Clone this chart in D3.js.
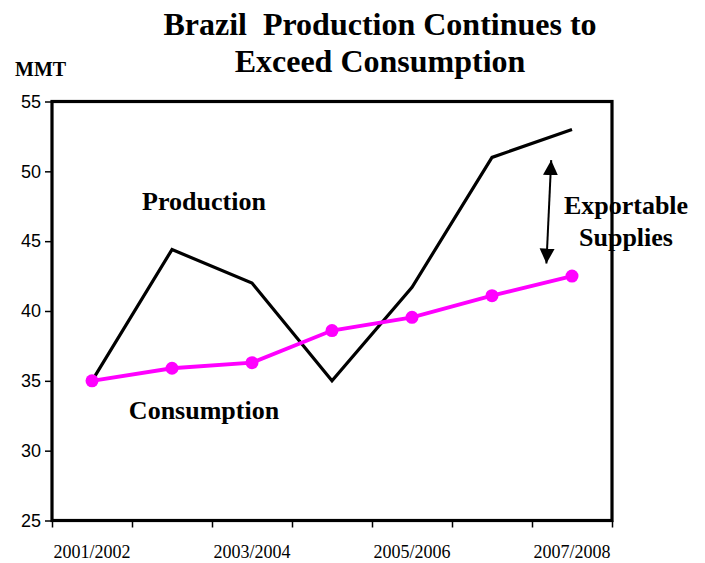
<!DOCTYPE html>
<html>
<head>
<meta charset="utf-8">
<script src="https://cdn.jsdelivr.net/npm/d3@7"></script>
<style>
  body { margin: 0; background: #fff; }
  svg { display: block; }
  .serif { font-family: "Liberation Serif", "Times New Roman", serif; font-weight: bold; fill: #000; }
</style>
</head>
<body>
<div id="vis"></div>
<script>
const years = ['2001/2002', '2002/2003', '2003/2004', '2004/2005', '2005/2006', '2006/2007', '2007/2008']
const production = [35, 44.4, 42, 35, 41.7, 51, 53]
const consumption = [35, 35.9, 36.3, 38.6, 39.55, 41.1, 42.5]
const yTicks = [25, 30, 35, 40, 45, 50, 55]
const shownYears = ['2001/2002', '2003/2004', '2005/2006', '2007/2008']

const W = 705, H = 563
const margin = {top: 101.5, right: 93, bottom: 42.5, left: 52}
const width = W - margin.left - margin.right
const height = H - margin.top - margin.bottom

const svg = d3.select('#vis')
    .append('svg')
    .attr('width', W)
    .attr('height', H)

const g = svg.append('g')
    .attr('transform', `translate(${margin.left},${margin.top})`)

// positions along x: 0..7 band edges, points in the middle
const xLin = d3.scaleLinear().domain([0, years.length]).range([0, width])
const x = (d, i) => xLin(i + 0.5)
const y = d3.scaleLinear().domain([25, 55]).range([height, 0])

// y axis
const yAxis = g.append('g')
    .call(d3.axisLeft(y).tickValues(yTicks).tickSize(7).tickPadding(4))
yAxis.select('.domain').remove()
yAxis.selectAll('line').attr('stroke', '#000').attr('stroke-width', 1.5)
yAxis.selectAll('text')
    .style('font-family', '"Liberation Sans", Arial, sans-serif')
    .style('font-size', '18px')
    .attr('fill', '#000')

// x axis ticks at band edges
const xAxis = g.append('g')
    .attr('transform', `translate(0,${height})`)
    .call(d3.axisBottom(xLin).tickValues(d3.range(years.length + 1)).tickSize(7).tickFormat(''))
xAxis.select('.domain').remove()
xAxis.selectAll('line').attr('stroke', '#000').attr('stroke-width', 1.5)

g.selectAll('.xlabel')
    .data(years)
    .join('text')
    .attr('class', 'xlabel')
    .filter(d => shownYears.includes(d))
    .attr('x', d => x(d, years.indexOf(d)))
    .attr('y', height + 37)
    .attr('text-anchor', 'middle')
    .style('font-family', '"Liberation Serif", "Times New Roman", serif')
    .style('font-size', '18px')
    .text(d => d)

// plot frame
g.append('rect')
    .attr('width', width)
    .attr('height', height)
    .attr('fill', 'none')
    .attr('stroke', '#000')
    .attr('stroke-width', 3.2)

const line = d3.line().x(x).y(d => y(d))

g.append('path')
    .datum(production)
    .attr('d', line)
    .attr('fill', 'none')
    .attr('stroke', '#000')
    .attr('stroke-width', 3.2)
    .attr('stroke-linejoin', 'miter')

g.append('path')
    .datum(consumption)
    .attr('d', line)
    .attr('fill', 'none')
    .attr('stroke', '#ff00ff')
    .attr('stroke-width', 3.8)

g.selectAll('.pt')
    .data(consumption)
    .join('circle')
    .attr('class', 'pt')
    .attr('cx', x)
    .attr('cy', d => y(d))
    .attr('r', 6.5)
    .attr('fill', '#ff00ff')

// double arrow for exportable supplies
const defs = svg.append('defs')
defs.append('marker')
    .attr('id', 'head')
    .attr('viewBox', '0 0 10 10')
    .attr('refX', 10).attr('refY', 5)
    .attr('markerWidth', 15).attr('markerHeight', 16)
    .attr('markerUnits', 'userSpaceOnUse')
    .attr('orient', 'auto-start-reverse')
    .append('path')
    .attr('d', 'M0,0 L10,5 L0,10 Z')
    .attr('fill', '#000')

const arrowTop = {i: 6.24, v: 50.8}
const arrowBot = {i: 6.18, v: 43.4}
g.append('line')
    .attr('x1', xLin(arrowTop.i)).attr('y1', y(arrowTop.v))
    .attr('x2', xLin(arrowBot.i)).attr('y2', y(arrowBot.v))
    .attr('stroke', '#000')
    .attr('stroke-width', 2)
    .attr('marker-start', 'url(#head)')
    .attr('marker-end', 'url(#head)')

// labels
svg.append('text').attr('class', 'serif')
    .attr('x', 380).attr('y', 35)
    .attr('text-anchor', 'middle')
    .style('font-size', '32px')
    .style('white-space', 'pre')
    .text('Brazil  Production Continues to')
svg.append('text').attr('class', 'serif')
    .attr('x', 380).attr('y', 72)
    .attr('text-anchor', 'middle')
    .style('font-size', '32px')
    .text('Exceed Consumption')

svg.append('text').attr('class', 'serif')
    .attr('x', 15).attr('y', 76)
    .style('font-size', '20px')
    .text('MMT')

svg.append('text').attr('class', 'serif')
    .attr('x', 204).attr('y', 210)
    .attr('text-anchor', 'middle')
    .style('font-size', '26px')
    .text('Production')

svg.append('text').attr('class', 'serif')
    .attr('x', 204).attr('y', 419)
    .attr('text-anchor', 'middle')
    .style('font-size', '26px')
    .text('Consumption')

svg.append('text').attr('class', 'serif')
    .attr('x', 626).attr('y', 214)
    .attr('text-anchor', 'middle')
    .style('font-size', '26px')
    .text('Exportable')
svg.append('text').attr('class', 'serif')
    .attr('x', 626).attr('y', 246)
    .attr('text-anchor', 'middle')
    .style('font-size', '26px')
    .text('Supplies')
</script>
</body>
</html>
